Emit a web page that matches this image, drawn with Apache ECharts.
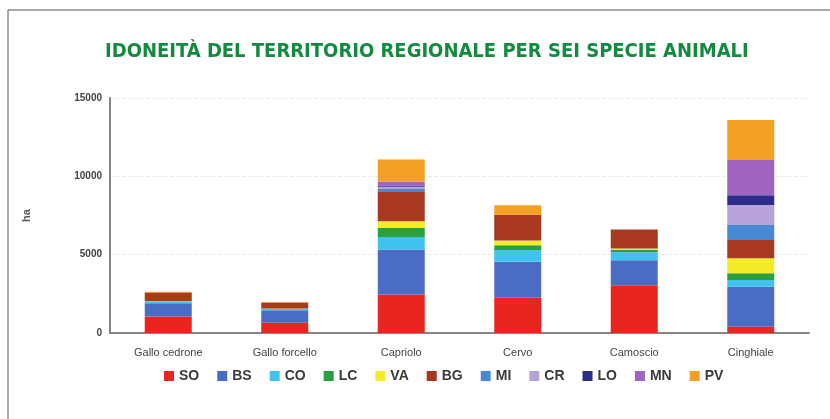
<!DOCTYPE html>
<html>
<head>
<meta charset="utf-8">
<script src="https://cdn.jsdelivr.net/npm/echarts@6/dist/echarts.min.js"></script>
<style>
  html, body { margin: 0; padding: 0; background: #fff; }
  #chart { width: 830px; height: 419px; }
</style>
</head>
<body>
<div id="chart"></div>
<script>
// categorie (specie)
const species = ['Gallo cedrone', 'Gallo forcello', 'Capriolo', 'Cervo', 'Camoscio', 'Cinghiale'];
// province, dal basso verso l'alto
const provinces = ['SO', 'BS', 'CO', 'LC', 'VA', 'BG', 'MI', 'CR', 'LO', 'MN', 'PV'];
// ettari per provincia, un array per provincia (ordine = species)
const SO = [1050, 650, 2450, 2250, 3050, 400];
const BS = [850, 800, 2880, 2300, 1600, 2550];
const CO = [100, 80, 800, 750, 500, 430];
const LC = [20, 20, 580, 300, 150, 430];
const VA = [20, 20, 430, 300, 100, 960];
const BG = [550, 380, 1900, 1650, 1200, 1160];
const MI = [0, 0, 150, 0, 0, 960];
const CR = [0, 0, 150, 0, 0, 1280];
const LO = [0, 0, 80, 0, 0, 630];
const MN = [0, 0, 250, 0, 0, 2240];
const PV = [50, 30, 1400, 600, 0, 2550];
const yTicks = [0, 5000, 10000, 15000];

const values = { SO, BS, CO, LC, VA, BG, MI, CR, LO, MN, PV };
const colors = {
  SO: '#e8261f', BS: '#4b6cc4', CO: '#3fc3ee', LC: '#2ba03c', VA: '#f4ec2b',
  BG: '#a83820', MI: '#468ad6', CR: '#b7a3d9', LO: '#2d2a8a', MN: '#a065c2', PV: '#f4a024'
};

const chart = echarts.init(document.getElementById('chart'));

const option = {
  backgroundColor: '#fff',
  animation: false,
  title: {
    text: 'IDONEITÀ DEL TERRITORIO REGIONALE PER SEI SPECIE ANIMALI',
    left: 100,
    top: 37,
    textStyle: {
      color: '#138a3f',
      fontFamily: 'DejaVu Sans Condensed',
      fontWeight: 'bold',
      fontSize: 20
    }
  },
  legend: {
    data: provinces,
    left: 159,
    top: 364,
    icon: 'rect',
    itemWidth: 10,
    itemHeight: 10,
    itemGap: 18,
    textStyle: {
      color: '#3a3a3a',
      fontFamily: 'Liberation Sans',
      fontWeight: 'bold',
      fontSize: 14
    }
  },
  grid: { left: 110, right: 21, top: 98, bottom: 86 },
  xAxis: {
    type: 'category',
    data: species,
    axisLine: { lineStyle: { color: '#8c8480', width: 2 } },
    axisTick: { show: false },
    axisLabel: { color: '#444', fontSize: 11, fontFamily: 'Liberation Sans', margin: 14 }
  },
  yAxis: {
    type: 'value',
    min: yTicks[0],
    max: yTicks[yTicks.length - 1],
    interval: yTicks[1] - yTicks[0],
    name: 'ha',
    nameLocation: 'middle',
    nameRotate: 90,
    nameGap: 78,
    nameTextStyle: { color: '#555', fontSize: 11, fontWeight: 'bold' },
    axisLine: { show: true, lineStyle: { color: '#8c8480', width: 2 } },
    axisTick: { show: false },
    axisLabel: {
      color: '#444', fontSize: 10, fontWeight: 'bold', fontFamily: 'Liberation Sans', margin: 8,
      formatter: v => String(v)
    },
    splitLine: { show: true, lineStyle: { color: '#ececec', type: 'dashed' } }
  },
  graphic: [
    { type: 'line', shape: { x1: 8, y1: 10, x2: 8, y2: 419 }, style: { stroke: '#555', lineWidth: 1 } },
    { type: 'line', shape: { x1: 8, y1: 10, x2: 830, y2: 10 }, style: { stroke: '#555', lineWidth: 1 } }
  ],
  series: provinces.map(p => ({
    name: p,
    type: 'bar',
    stack: 'tot',
    barWidth: 47,
    data: values[p],
    itemStyle: { color: colors[p] }
  }))
};

chart.setOption(option);
</script>
</body>
</html>
